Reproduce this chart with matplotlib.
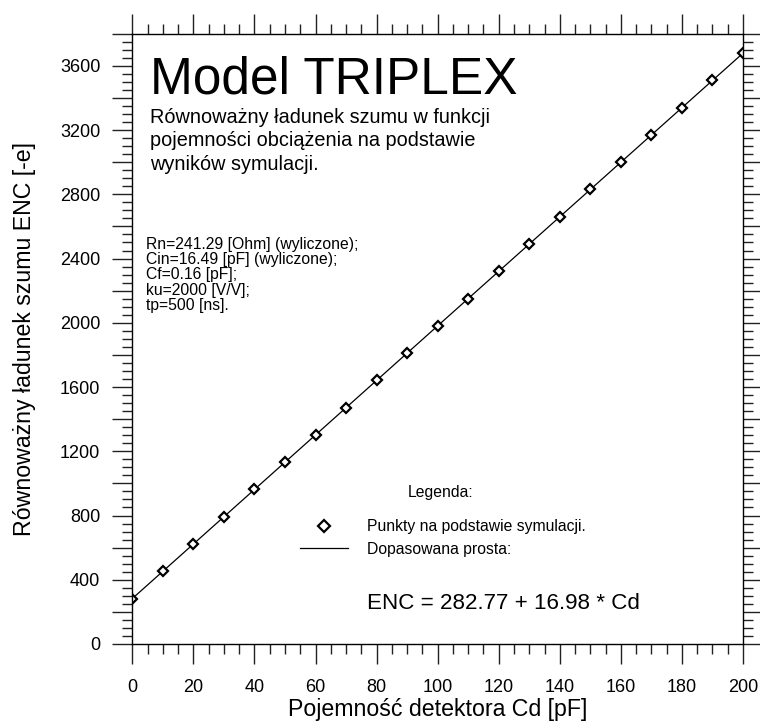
import matplotlib
matplotlib.use("Agg")
import matplotlib.pyplot as plt
from matplotlib.ticker import MultipleLocator, FuncFormatter
from matplotlib.lines import Line2D

plt.rcParams['font.family'] = ['Liberation Sans', 'DejaVu Sans']

# symulacja: ENC dla kolejnych pojemnosci detektora
cd = [0, 10, 20, 30, 40, 50, 60, 70, 80, 90, 100,
      110, 120, 130, 140, 150, 160, 170, 180, 190, 200]
enc = [283, 453, 622, 792, 962, 1132, 1302, 1471, 1641, 1811, 1981,
       2151, 2320, 2490, 2660, 2830, 3000, 3170, 3339, 3509, 3679]

# dopasowana prosta
a0 = 282.77
a1 = 16.98
fit_x = [0, 200]

params = ["Rn=241.29 [Ohm] (wyliczone);",
          "Cin=16.49 [pF] (wyliczone);",
          "Cf=0.16 [pF];",
          "ku=2000 [V/V];",
          "tp=500 [ns]."]

W, H = 760, 722
fig = plt.figure(figsize=(W / 100, H / 100), dpi=100)
ax = fig.add_axes([132.3 / W, 1 - 644 / H, (743 - 132.3) / W, (644 - 33.7) / H])


def px(x, y):
    return x / W, 1 - y / H


ax.plot(fit_x, [a0 + a1 * x for x in fit_x], color='black', lw=0.9)
ax.plot(cd, enc, ls='none', marker='D', ms=4.6, mfc='white', mec='black', mew=1.6)

ax.set_xlim(0, 200)
ax.set_ylim(0, 3800)
ax.xaxis.set_major_locator(MultipleLocator(20))
ax.xaxis.set_minor_locator(MultipleLocator(5))
ax.yaxis.set_major_locator(MultipleLocator(200))
ax.yaxis.set_minor_locator(MultipleLocator(50))
ax.yaxis.set_major_formatter(FuncFormatter(lambda v, p: f"{v:.0f}" if v % 400 == 0 else ""))

ax.tick_params(which='both', direction='out', top=True, right=True, width=1.0, color='#222222')
ax.tick_params(which='major', length=14.4)
ax.tick_params(which='minor', length=7.2)
ax.tick_params(axis='x', which='major', pad=11, labelsize=13)
ax.tick_params(axis='y', which='major', pad=8.6, labelsize=13)
for s in ax.spines.values():
    s.set_linewidth(1.0)

ax.set_xlabel("Pojemność detektora Cd [pF]", fontsize=16.7, labelpad=1.5)
ax.set_ylabel("Równoważny ładunek szumu ENC [-e]", fontsize=16.7, labelpad=17)

fig.text(*px(150, 93), "Model TRIPLEX", fontsize=37, va='baseline')
fig.text(*px(150, 108), "Równoważny ładunek szumu w funkcji\npojemności obciążenia na podstawie\nwyników symulacji.",
         fontsize=14.3, va='top', linespacing=1.3)
fig.text(*px(146, 237), "\n".join(params), fontsize=11.3, va='top', linespacing=1.02)

fig.text(*px(441, 492), "Legenda:", fontsize=11.3, ha='center', va='center')
handles = [Line2D([], [], ls='none', marker='D', ms=4.6, mfc='white', mec='black', mew=1.6),
           Line2D([], [], color='black', lw=0.9)]
ax.legend(handles, ["Punkty na podstawie symulacji.", "Dopasowana prosta:"],
          loc='center left', bbox_to_anchor=px(300, 538), bbox_transform=fig.transFigure,
          frameon=False, fontsize=11.3, markerscale=1.3, handlelength=3.05,
          handletextpad=1.22, labelspacing=0.45, borderpad=0, borderaxespad=0)

fig.text(*px(367, 609), "ENC = 282.77 + 16.98 * Cd", fontsize=16.1, va='baseline')

fig.savefig("out.png", dpi=100)
